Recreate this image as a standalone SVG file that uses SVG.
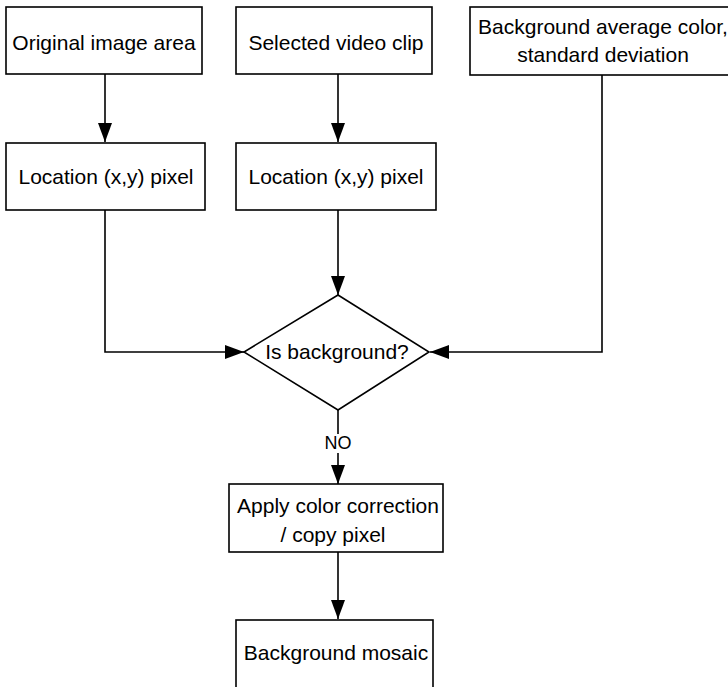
<svg xmlns="http://www.w3.org/2000/svg" width="728" height="687" viewBox="0 0 728 687">
<style>
.box{fill:#fff;stroke:#000;stroke-width:1.6}
.t{font-family:"Liberation Sans",Arial,sans-serif;font-size:21px;fill:#000;text-anchor:middle}
.lbl{font-family:"Liberation Sans",Arial,sans-serif;font-size:18px;fill:#000;text-anchor:middle}
.c{fill:none;stroke:#000;stroke-width:1.6}
</style>
<defs>
<marker id="arr" markerUnits="userSpaceOnUse" markerWidth="20" markerHeight="14" refX="19" refY="7" orient="auto">
<path d="M0,0 L19,7 L0,14 Z" fill="#000"/>
</marker>
</defs>
<rect width="728" height="687" fill="#fff"/>
<g id="connectors">
<path class="c" d="M105,74 L105,142" marker-end="url(#arr)"/>
<path class="c" d="M338,74 L338,142" marker-end="url(#arr)"/>
<path class="c" d="M105,210 L105,352 L244,352" marker-end="url(#arr)"/>
<path class="c" d="M338,210 L338,295" marker-end="url(#arr)"/>
<path class="c" d="M602,75 L602,352 L430,352" marker-end="url(#arr)"/>
<path class="c" d="M338,410 L338,484" marker-end="url(#arr)"/>
<path class="c" d="M338,552 L338,619" marker-end="url(#arr)"/>
<rect x="322" y="434" width="32" height="19" fill="#fff"/>
<text class="lbl" x="338" y="449">NO</text>
</g>
<g id="n1"><rect class="box" x="6" y="7" width="196" height="67"/><text class="t" x="104" y="50">Original image area</text></g>
<g id="n2"><rect class="box" x="236" y="7" width="196" height="67"/><text class="t" x="336" y="50">Selected video clip</text></g>
<g id="n3"><rect class="box" x="470" y="7" width="270" height="68"/><text class="t" x="603" y="34">Background average color,</text><text class="t" x="603" y="62">standard deviation</text></g>
<g id="n4"><rect class="box" x="6" y="143" width="199" height="67"/><text class="t" x="106" y="184">Location (x,y) pixel</text></g>
<g id="n5"><rect class="box" x="236" y="143" width="200" height="67"/><text class="t" x="336" y="184">Location (x,y) pixel</text></g>
<g id="n6"><polygon class="box" points="338,295 429,352 338,410 244,352"/><text class="t" x="337" y="359">Is background?</text></g>
<g id="n7"><rect class="box" x="229" y="484" width="214" height="68"/><text class="t" x="338" y="513">Apply color correction</text><text class="t" x="333" y="542">/ copy pixel</text></g>
<g id="n8"><rect class="box" x="236" y="620" width="197" height="80"/><text class="t" x="336" y="660">Background mosaic</text></g>
</svg>
